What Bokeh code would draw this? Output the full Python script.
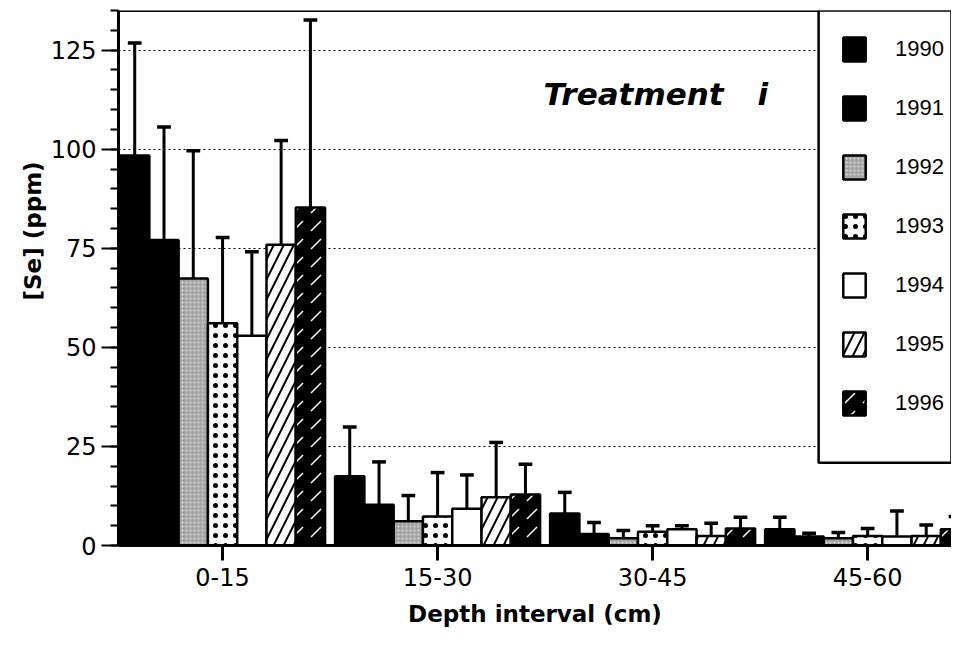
import numpy as np
from bokeh.plotting import figure
from bokeh.models import FixedTicker, Legend, LegendItem, Label, BoxAnnotation, Span, Title
from bokeh.embed import file_html
from bokeh.resources import INLINE

# ---------------- data ----------------
depths = ["0-15", "15-30", "30-45", "45-60"]
years = ["1990", "1991", "1992", "1993", "1994", "1995", "1996"]

se_1990 = [98.4, 17.5, 8.1, 4.1]
se_1991 = [77.1, 10.3, 2.9, 2.3]
se_1992 = [67.4, 6.1, 1.8, 1.8]
se_1993 = [56.1, 7.3, 3.5, 2.4]
se_1994 = [52.9, 9.3, 4.1, 2.3]
se_1995 = [75.9, 12.2, 2.4, 2.4]
se_1996 = [85.3, 12.9, 4.3, 4.1]

# upper end of the error bars
up_1990 = [126.8, 29.9, 13.4, 7.1]
up_1991 = [105.6, 21.1, 5.8, 3.1]
up_1992 = [99.6, 12.6, 3.8, 3.3]
up_1993 = [77.7, 18.4, 5.0, 4.3]
up_1994 = [74.1, 17.8, 5.0, 8.7]
up_1995 = [102.2, 26.0, 5.6, 5.2]
up_1996 = [132.6, 20.5, 7.1, 7.3]

y_ticks = [0, 25, 50, 75, 100, 125]

means = [se_1990, se_1991, se_1992, se_1993, se_1994, se_1995, se_1996]
uppers = [up_1990, up_1991, up_1992, up_1993, up_1994, up_1995, up_1996]

# ---------------- styles ----------------
styles = [
    dict(fill_color="black"),
    dict(fill_color="black"),
    dict(fill_color="#a4a4a4", hatch_pattern="dot", hatch_color="#dcdcdc",
         hatch_scale=4, hatch_weight=1),
    dict(fill_color="white", hatch_pattern="dot", hatch_color="black",
         hatch_scale=10, hatch_weight=3),
    dict(fill_color="white"),
    dict(fill_color="white", hatch_pattern="right_diagonal_line", hatch_color="black",
         hatch_scale=20, hatch_weight=2),
    dict(fill_color="black", hatch_pattern="right_diagonal_dash", hatch_color="white",
         hatch_scale=18, hatch_weight=1.5),
]

FONT = "DejaVu Sans"

p = figure(width=951, height=634, x_range=(-0.484, 3.39), y_range=(0, 135),
           output_backend="svg", toolbar_location=None,
           min_border_left=118, min_border_right=0, min_border_top=10,
           min_border_bottom=89)
p.outline_line_color = None
p.background_fill_color = "white"
p.border_fill_color = "white"

# grid
p.xgrid.visible = False
p.ygrid.ticker = FixedTicker(ticks=y_ticks[1:])
p.ygrid.grid_line_color = "black"
p.ygrid.grid_line_dash = "2 3"
p.ygrid.grid_line_width = 1

# y axis
p.yaxis.ticker = FixedTicker(ticks=y_ticks, minor_ticks=list(range(0, 136, 5)))
p.yaxis.axis_line_width = 3
p.yaxis.major_tick_line_width = 2
p.yaxis.minor_tick_line_width = 2
p.yaxis.major_tick_out = 17
p.yaxis.major_tick_in = 0
p.yaxis.minor_tick_out = 8
p.yaxis.minor_tick_in = 0
p.yaxis.major_label_text_font = FONT
p.yaxis.major_label_text_font_size = "24px"
p.yaxis.major_label_text_color = "black"
p.yaxis.major_label_standoff = 5

# x axis
p.xaxis.ticker = FixedTicker(ticks=list(range(len(depths))), minor_ticks=[])
p.xaxis.major_label_overrides = {i: d for i, d in enumerate(depths)}
p.xaxis.axis_line_width = 3
p.xaxis.major_tick_line_width = 3
p.xaxis.major_tick_out = 15
p.xaxis.major_tick_in = 0
p.xaxis.major_label_text_font = FONT
p.xaxis.major_label_text_font_size = "24px"
p.xaxis.major_label_text_color = "black"
p.xaxis.major_label_standoff = 7
p.xaxis.axis_label = "Depth interval (cm)"
p.xaxis.axis_label_text_font = FONT
p.xaxis.axis_label_text_font_style = "bold"
p.xaxis.axis_label_text_font_size = "23px"
p.xaxis.axis_label_text_color = "black"
p.xaxis.axis_label_standoff = 12

# y axis title (side title, shifted upward)
p.add_layout(Title(text="[Se] (ppm)", align="left", offset=245, standoff=4,
                   text_font=FONT, text_font_style="bold", text_font_size="23px",
                   text_color="black"), "left")

# top frame line
p.add_layout(Span(location=135, dimension="width", line_color="black", line_width=3))

# bars
w = 0.1362
centers = np.arange(len(depths), dtype=float)
items = []
for i, (yr, m, u, st) in enumerate(zip(years, means, uppers, styles)):
    xs = centers + (i - 3) * w
    r = p.vbar(x=xs, top=m, bottom=0, width=w, line_color="black", line_width=2.5, **st)
    p.segment(x0=xs, y0=m, x1=xs, y1=u, line_color="black", line_width=3)
    p.segment(x0=xs - 0.032, y0=u, x1=xs + 0.032, y1=u, line_color="black", line_width=3.5)
    items.append(LegendItem(label=yr, renderers=[r]))

# legend box + legend
box = BoxAnnotation(left=2.772, bottom=20.9, fill_color="white", fill_alpha=1.0,
                    line_color="black", line_width=2.5, line_alpha=1.0)
p.add_layout(box)
legend = Legend(items=items, location=(722, 127), orientation="vertical",
                glyph_width=28, glyph_height=30, label_height=30, spacing=29,
                label_standoff=27, padding=0, margin=0,
                border_line_color=None, background_fill_alpha=0.0,
                label_text_font="Liberation Sans", label_text_font_size="22px",
                label_text_color="black")
p.add_layout(legend)

# annotation
p.add_layout(Label(x=1.493, y=114.0, text="Treatment", text_align="left",
                   text_baseline="alphabetic", text_font=FONT,
                   text_font_style="bold italic", text_font_size="31px", text_color="black"))
p.add_layout(Label(x=2.488, y=114.0, text="i", text_align="left",
                   text_baseline="alphabetic", text_font=FONT,
                   text_font_style="bold italic", text_font_size="31px", text_color="black"))

open("out.html", "w").write(file_html(p, INLINE))
